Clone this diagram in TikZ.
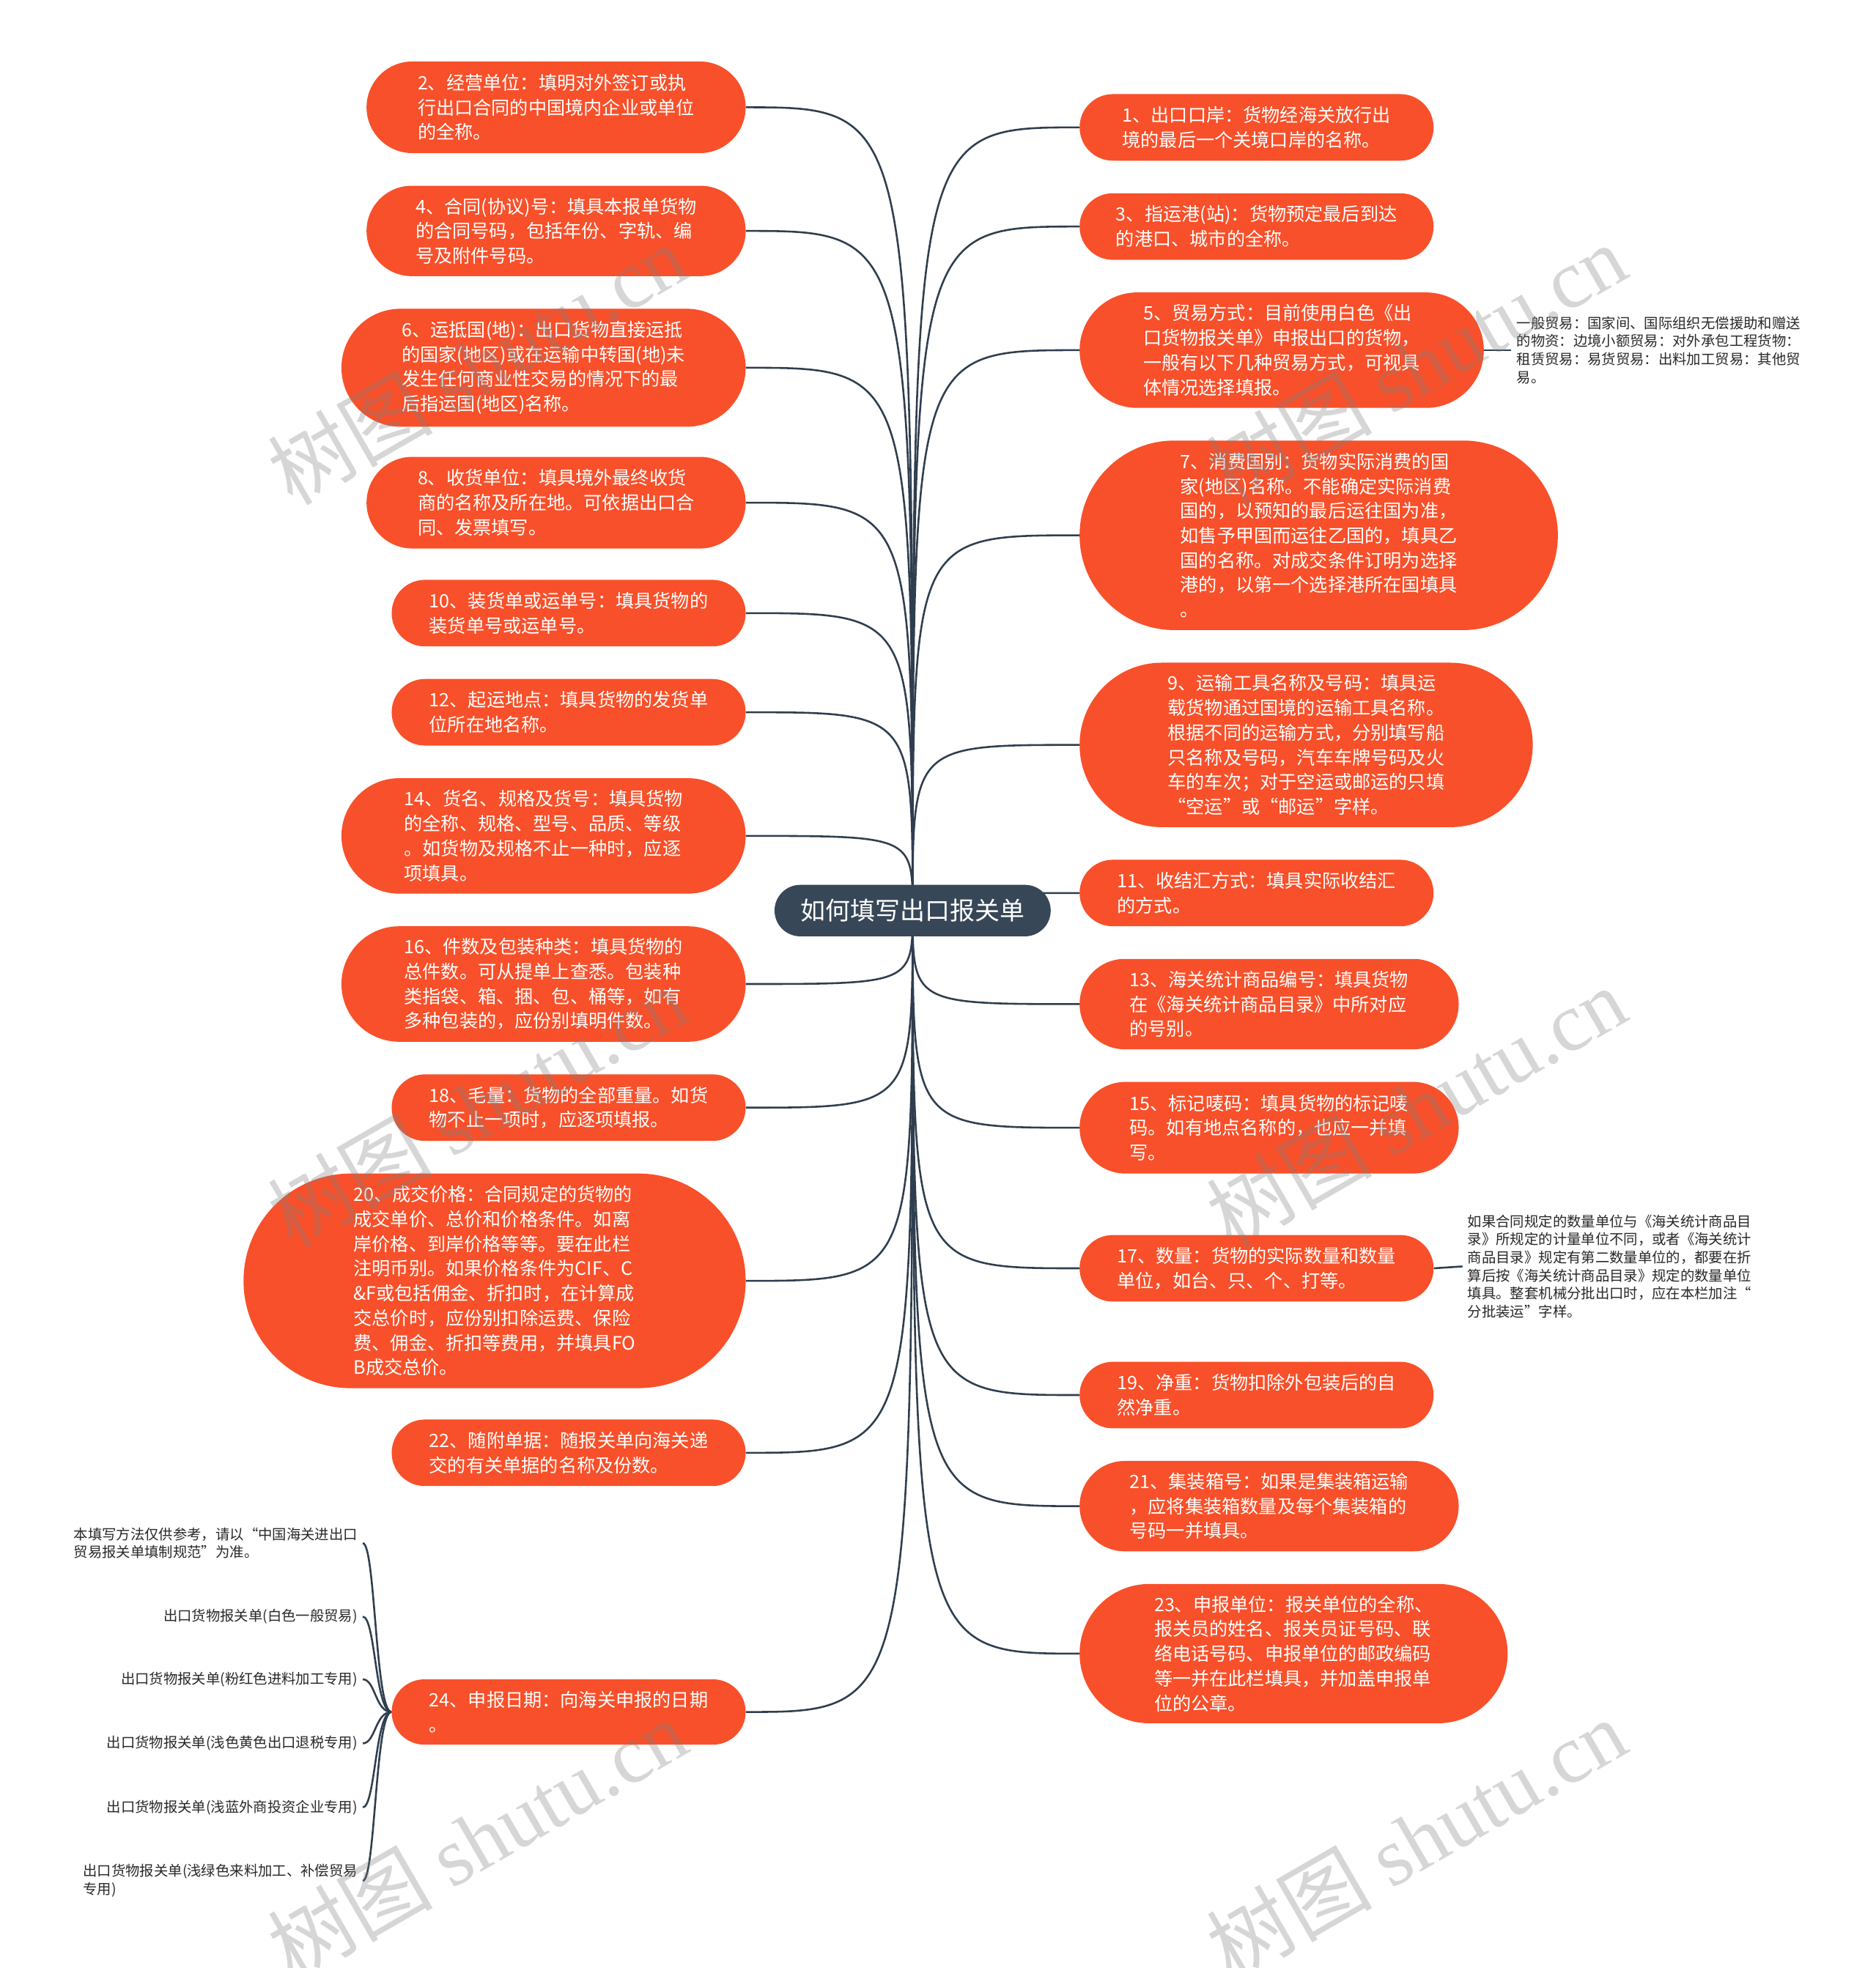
\documentclass[tikz,border=0pt]{standalone}
\usepackage{fontspec}
\setmainfont{Noto Sans CJK SC}
\newfontfamily\wmcjk{Noto Sans CJK SC}
\newfontfamily\wmlat{Liberation Serif}
\definecolor{orangeN}{RGB}{248,80,42}
\definecolor{slateN}{RGB}{55,71,87}
\definecolor{lineN}{RGB}{47,62,78}
\definecolor{noteN}{RGB}{40,40,40}
\pgfdeclarelayer{bg}
\pgfsetlayers{bg,main}
\tikzset{
  leaf/.style={fill=orangeN, text=white, inner sep=0pt, align=left,
    font=\fontsize{14.7}{19.7}\selectfont},
  rootnode/.style={fill=slateN, text=white, inner sep=0pt,
    minimum width=220pt, minimum height=41pt, rounded corners=20.5pt,
    font=\fontsize{19.8}{24}\selectfont},
  conn/.style={draw=lineN, line width=1.5pt},
  note/.style={text=noteN, inner ysep=0pt, inner xsep=4pt, align=left,
    font=\fontsize{11.3}{14.4}\selectfont},
  wmark/.style={text=gray, opacity=0.32, rotate=30, inner sep=0pt,
    font=\fontsize{66}{70}\selectfont},
}
\newcommand{\leafpill}[7]{\node[leaf, minimum width=#4pt, minimum height=#5pt, rounded corners=#6pt] (#1) at (#2,#3) {#7};}
\begin{document}
\begin{tikzpicture}[x=1pt,y=-1pt]
\useasboundingbox (0,0) rectangle (1494,1568);
\begin{pgfonlayer}{bg}
\fill[white] (0,0) rectangle (1494,1568);
\end{pgfonlayer}

% root
\node[rootnode] (root) at (727,725.5) {如何填写出口报关单};

% left column
\leafpill{n2}{443}{85.5}{302}{73}{36.5}{2、经营单位：填明对外签订或执\\行出口合同的中国境内企业或单位\\的全称。}
\leafpill{n4}{443}{184}{302}{72}{36}{4、合同(协议)号：填具本报单货物\\的合同号码，包括年份、字轨、编\\号及附件号码。}
\leafpill{n6}{433}{293}{322}{94}{47}{6、运抵国(地)：出口货物直接运抵\\的国家(地区)或在运输中转国(地)未\\发生任何商业性交易的情况下的最\\后指运国(地区)名称。}
\leafpill{n8}{443}{400.5}{302}{73}{36.5}{8、收货单位：填具境外最终收货\\商的名称及所在地。可依据出口合\\同、发票填写。}
\leafpill{n10}{453}{488.5}{282}{53}{26.5}{10、装货单或运单号：填具货物的\\装货单号或运单号。}
\leafpill{n12}{453}{567.5}{282}{53}{26.5}{12、起运地点：填具货物的发货单\\位所在地名称。}
\leafpill{n14}{433}{666}{322}{92}{46}{14、货名、规格及货号：填具货物\\的全称、规格、型号、品质、等级\\。如货物及规格不止一种时，应逐\\项填具。}
\leafpill{n16}{433}{784}{322}{92}{46}{16、件数及包装种类：填具货物的\\总件数。可从提单上查悉。包装种\\类指袋、箱、捆、包、桶等，如有\\多种包装的，应份别填明件数。}
\leafpill{n18}{453}{882.5}{282}{53}{26.5}{18、毛量：货物的全部重量。如货\\物不止一项时，应逐项填报。}
\leafpill{n20}{394}{1020.5}{400}{171}{85.5}{20、成交价格：合同规定的货物的\\成交单价、总价和价格条件。如离\\岸价格、到岸价格等等。要在此栏\\注明币别。如果价格条件为CIF、C\\\&F或包括佣金、折扣时，在计算成\\交总价时，应份别扣除运费、保险\\费、佣金、折扣等费用，并填具FO\\B成交总价。}
\leafpill{n22}{453}{1157.5}{282}{53}{26.5}{22、随附单据：随报关单向海关递\\交的有关单据的名称及份数。}
\leafpill{n24}{453}{1364}{282}{52}{26}{24、申报日期：向海关申报的日期\\。}

% right column
\leafpill{n1}{1001}{101.5}{282}{53}{26.5}{1、出口口岸：货物经海关放行出\\境的最后一个关境口岸的名称。}
\leafpill{n3}{1001}{180.5}{282}{53}{26.5}{3、指运港(站)：货物预定最后到达\\的港口、城市的全称。}
\leafpill{n5}{1021}{279}{322}{92}{46}{5、贸易方式：目前使用白色《出\\口货物报关单》申报出口的货物，\\一般有以下几种贸易方式，可视具\\体情况选择填报。}
\leafpill{n7}{1050.5}{426.5}{381}{151}{75.5}{7、消费国别：货物实际消费的国\\家(地区)名称。不能确定实际消费\\国的，以预知的最后运往国为准，\\如售予甲国而运往乙国的，填具乙\\国的名称。对成交条件订明为选择\\港的，以第一个选择港所在国填具\\。}
\leafpill{n9}{1040.5}{593.5}{361}{131}{65.5}{9、运输工具名称及号码：填具运\\载货物通过国境的运输工具名称。\\根据不同的运输方式，分别填写船\\只名称及号码，汽车车牌号码及火\\车的车次；对于空运或邮运的只填\\“空运”或“邮运”字样。}
\leafpill{n11}{1001}{711.5}{282}{53}{26.5}{11、收结汇方式：填具实际收结汇\\的方式。}
\leafpill{n13}{1011}{800}{302}{72}{36}{13、海关统计商品编号：填具货物\\在《海关统计商品目录》中所对应\\的号别。}
\leafpill{n15}{1011}{898.5}{302}{73}{36.5}{15、标记唛码：填具货物的标记唛\\码。如有地点名称的，也应一并填\\写。}
\leafpill{n17}{1001}{1010.5}{282}{53}{26.5}{17、数量：货物的实际数量和数量\\单位，如台、只、个、打等。}
\leafpill{n19}{1001}{1111.5}{282}{53}{26.5}{19、净重：货物扣除外包装后的自\\然净重。}
\leafpill{n21}{1011}{1200}{302}{72}{36}{21、集装箱号：如果是集装箱运输\\，应将集装箱数量及每个集装箱的\\号码一并填具。}
\leafpill{n23}{1030.5}{1317.5}{341}{111}{55.5}{23、申报单位：报关单位的全称、\\报关员的姓名、报关员证号码、联\\络电话号码、申报单位的邮政编码\\等一并在此栏填具，并加盖申报单\\位的公章。}

% notes
\node[note, anchor=west] (l5) at (1204,279) {一般贸易：国家间、国际组织无偿援助和赠送\\的物资：边境小额贸易：对外承包工程货物：\\租赁贸易：易货贸易：出料加工贸易：其他贸\\易。};
\node[note, anchor=west] (l17) at (1165,1009) {如果合同规定的数量单位与《海关统计商品目\\录》所规定的计量单位不同，或者《海关统计\\商品目录》规定有第二数量单位的，都要在折\\算后按《海关统计商品目录》规定的数量单位\\填具。整套机械分批出口时，应在本栏加注“\\分批装运”字样。};

\node[note, anchor=east] (c1) at (289,1229.5) {本填写方法仅供参考，请以“中国海关进出口\\贸易报关单填制规范”为准。};
\node[note, anchor=east] (c2) at (289,1288) {出口货物报关单(白色一般贸易)};
\node[note, anchor=east] (c3) at (289,1338) {出口货物报关单(粉红色进料加工专用)};
\node[note, anchor=east] (c4) at (289,1389) {出口货物报关单(浅色黄色出口退税专用)};
\node[note, anchor=east] (c5) at (289,1440) {出口货物报关单(浅蓝外商投资企业专用)};
\node[note, anchor=east] (c6) at (289,1498.5) {出口货物报关单(浅绿色来料加工、补偿贸易\\专用)};
\coordinate (trunk) at (299,1364);

% connectors
\begin{pgfonlayer}{bg}
\foreach \n in {n2,n4,n6,n8,n10,n12,n14,n16,n18,n20,n22,n24}
  \draw[conn] (root.center) .. controls (root.center |- \n.east) and (root.center |- \n.east) .. (\n.east);
\foreach \n in {n1,n3,n5,n7,n9,n11,n13,n15,n17,n19,n21,n23}
  \draw[conn] (root.center) .. controls (root.center |- \n.west) and (root.center |- \n.west) .. (\n.west);
\draw[conn] (n5.east) -- (l5.west);
\draw[conn] (n17.east) -- (l17.west);
\foreach \c in {c1,c2,c3,c4,c5,c6}
  \draw[conn] (n24.west) .. controls (trunk) and (trunk |- \c.east) .. (\c.east);
\end{pgfonlayer}

% watermarks
\node[wmark] (w1) at (380,290) {{\wmcjk 树图} {\wmlat shutu.cn}};
\node[wmark] (w2) at (1128,290) {{\wmcjk 树图} {\wmlat shutu.cn}};
\node[wmark] (w3) at (380,882) {{\wmcjk 树图} {\wmlat shutu.cn}};
\node[wmark] (w4) at (1128,882) {{\wmcjk 树图} {\wmlat shutu.cn}};
\node[wmark] (w5) at (380,1465) {{\wmcjk 树图} {\wmlat shutu.cn}};
\node[wmark] (w6) at (1128,1465) {{\wmcjk 树图} {\wmlat shutu.cn}};
\end{tikzpicture}
\end{document}
